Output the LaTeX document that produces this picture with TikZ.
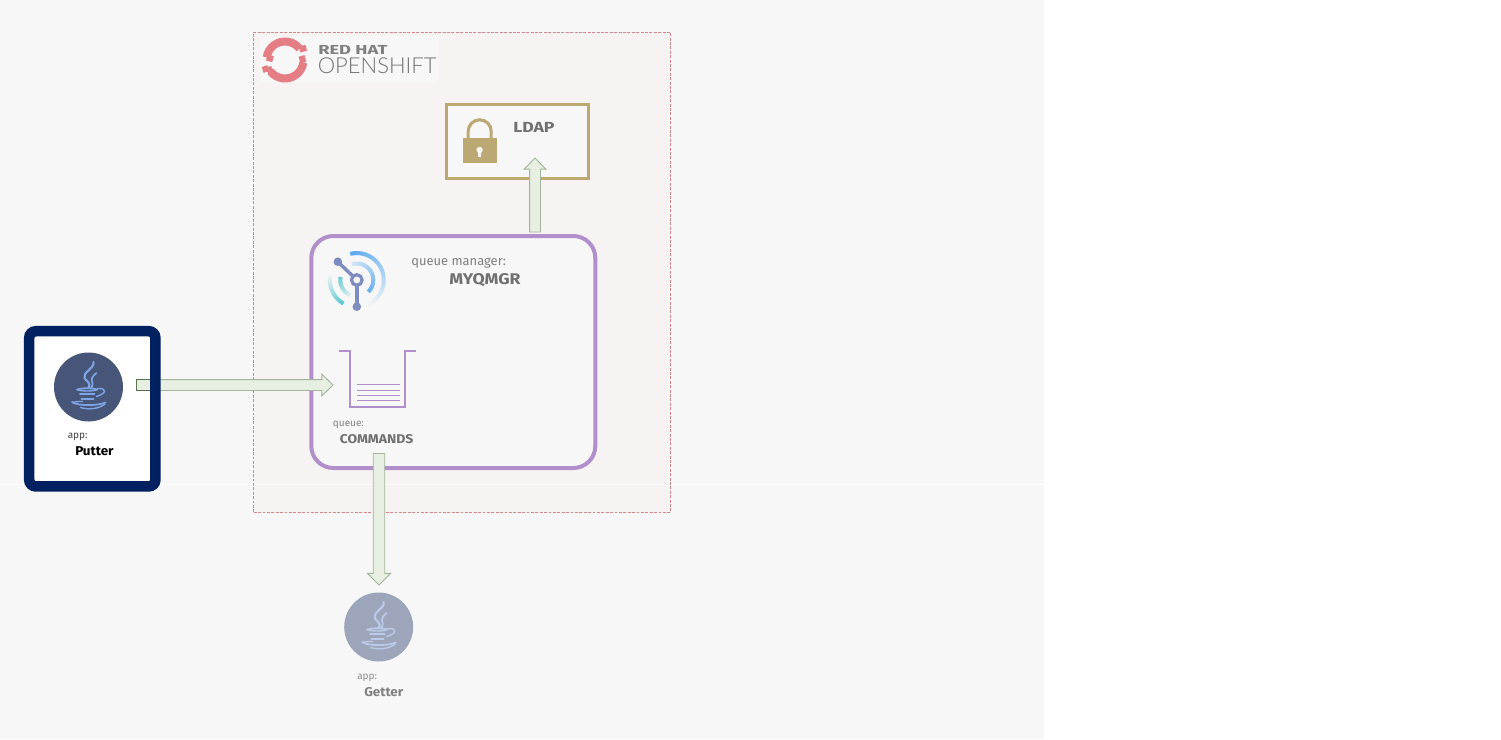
\documentclass[tikz,border=0pt]{standalone}
\usepackage{fontspec}
\setmainfont{Fira Sans}
\newfontfamily\thinfont{Lato Light}
\usetikzlibrary{calc}
\definecolor{bgc}{HTML}{F7F7F7}
\definecolor{boxtint}{HTML}{F7F3F3}
\definecolor{boxline}{HTML}{FBF9F9}
\definecolor{dashred}{HTML}{D2868C}
\definecolor{qmpurple}{HTML}{B08FCB}
\definecolor{gold}{HTML}{BBA873}
\definecolor{navy}{HTML}{00205F}
\definecolor{arrowfill}{HTML}{E6EFE2}
\definecolor{arrowline}{HTML}{A3B59B}
\definecolor{arrowdark}{HTML}{55744A}
\definecolor{txtgray}{HTML}{707070}
\definecolor{lightgray}{HTML}{808080}
\definecolor{rhred}{HTML}{E47E84}
\definecolor{iconblue}{HTML}{7F8CBF}
\definecolor{arcblue}{HTML}{5AA9F0}
\definecolor{arcteal}{HTML}{5FC8D0}
\definecolor{javadark}{HTML}{475678}
\definecolor{javadarkline}{HTML}{7FA4E6}
\definecolor{javalight}{HTML}{9DA5BA}
\definecolor{javalightline}{HTML}{BACAE8}
\tikzset{
  fat/.style={draw=arrowline,fill=arrowfill,line width=.7pt,line join=miter},
  lab/.style={inner sep=0pt,anchor=base west,text=txtgray},
  smalllab/.style={lab,font=\fontsize{7.5}{9}\selectfont},
  areabox/.style={inner sep=0pt,outer sep=0pt},
}
% #1 tail, #2 tip, #3 shaft half width, #4 head half width, #5 head length
\newcommand{\fatarrow}[5]{
  \coordinate (hb) at ($(#2)!#5!(#1)$);
  \path[fat] ($(#1)!#3!90:(#2)$) -- ($(hb)!#3!90:(#2)$) -- ($(hb)!#4!90:(#2)$) -- (#2)
     -- ($(hb)!#4!-90:(#2)$) -- ($(hb)!#3!-90:(#2)$) -- ($(#1)!#3!-90:(#2)$) -- cycle;
}
% java icon at a node centre
\newcommand{\javaicon}[2]{
  \begin{scope}[shift={(#1.center)},yscale=-1,line cap=round,draw=#2,line width=1.05pt]
    \draw[line width=1.6pt] (5,25) .. controls (6,18) and (-6,15) .. (-4,9) .. controls (-3,6) and (3,5) .. (0,-1);
    \draw[line width=1.3pt] (8,14) .. controls (4,11) and (2,8) .. (4,4) .. controls (5,2) and (3,0) .. (2.5,-1);
    \draw (-12,-2.5) .. controls (-8,-4.5) and (5,-4.5) .. (9,-2.5);
    \draw[line width=1.4pt] (-11,-2.5) .. controls (-6,-.8) and (4,-.8) .. (8.5,-2.5);
    \draw (9,-1.5) .. controls (19,-1) and (18,-6.5) .. (8,-9.5);
    \draw[line width=1.5pt] (-8.5,-7) -- (6,-7);
    \draw[line width=1.5pt] (-7,-12) -- (5,-12);
    \draw[line width=1.3pt] (-16.5,-15) .. controls (-12,-19) and (10,-19) .. (17,-15.5);
    \draw (-16,-15.5) .. controls (-10,-14) and (-8,-14.5) .. (-6,-14.5);
    \draw (-8,-20.5) .. controls (0,-23) and (10,-22) .. (16.5,-17);
  \end{scope}
}
% fading arc: radius, from, to, colour, from%, to%
\newcommand{\fadearc}[6]{
  \foreach \i in {0,...,19}{
    \pgfmathsetmacro{\arcA}{#2+(#3-#2)*\i/20}
    \pgfmathsetmacro{\arcB}{#2+(#3-#2)*(\i+1.15)/20}
    \pgfmathsetmacro{\arcP}{#5+(#6-#5)*\i/19}
    \draw[draw=#4!\arcP!bgc,line width=3pt] (\arcA:#1) arc[start angle=\arcA,end angle=\arcB,radius=#1];
  }
}
\begin{document}
\begin{tikzpicture}[x=.75pt,y=-.75pt]
\useasboundingbox (0,0) rectangle (1501,739);
\fill[white] (0,0) rectangle (1501,739);
\fill[bgc] (0,0) rectangle (1044,739);
\draw[white,line width=.9pt] (0,484.5) -- (1044,484.5);

% OpenShift area
\node[areabox,draw=dashred,fill=boxtint,line width=.75pt,dash pattern=on 2.2pt off 1.1pt,minimum width=416.8*.75pt,minimum height=480.2*.75pt] (openshift) at (462.1,272.4) {};
\draw[boxline,line width=.9pt] (254.5,484.5) -- (670,484.5);
\fill[bgc] (260,36) rectangle (438,82);

% Red Hat logo
\begin{scope}[shift={(285,60)},yscale=-1,draw=rhred,line width=6pt,line cap=butt]
  \draw (172:18.5) arc[start angle=172,end angle=38,radius=18.5];
  \draw[line width=4.6pt] (36:18) -- (30:24.5);
  \draw (-8:18.5) arc[start angle=-8,end angle=-142,radius=18.5];
  \draw[line width=4.6pt] (206:18.5) -- (204:24.5);
  \draw[line width=4.6pt] (204:18.5) -- (222:18.5);
  \draw[line width=4.6pt] (-8:18.5) -- (14:17);
  \draw[line width=4.6pt] (172:18.5) -- (176:12);
\end{scope}
\node[lab,text=lightgray,font=\fontsize{9.8}{11}\selectfont\bfseries\addfontfeature{FakeStretch=1.4}] (rh) at (318,54.7) {RED HAT};
\node[lab,text=black!55,font=\fontsize{16.5}{18}\thinfont] (os) at (317.5,73) {OPENSHIFT};

% LDAP
\node[areabox,draw=gold,fill=bgc,line width=2.25pt,minimum width=142*.75pt,minimum height=74*.75pt] (ldap) at (517.5,141.5) {};
\draw[gold,line width=2.3pt] (468.2,139) -- (468.2,131.3) arc[start angle=180,end angle=360,radius=11.5] -- (491.2,139);
\fill[gold] (462.5,138.3) rectangle (497,162.5);
\fill[bgc] (479.6,150) circle[radius=3.2];
\draw[bgc,line width=1.9pt] (479.6,150) -- (479.6,156.5);
\node[lab,font=\fontsize{11}{13}\selectfont\bfseries\addfontfeature{FakeStretch=1.2}] (ldaplab) at (513,132.7) {LDAP};

% Queue manager
\node[areabox,draw=qmpurple,fill=bgc,line width=3pt,rounded corners=16.5pt,minimum width=284*.75pt,minimum height=232*.75pt] (qm) at (453.3,352) {};
\begin{scope}[shift={(356.8,280)},yscale=-1,line cap=butt]
  \fadearc{27}{104}{-62}{arcblue}{100}{5}
  \fadearc{27}{172}{240}{arcteal}{10}{100}
  \fadearc{16.5}{107}{-45}{arcblue}{25}{90}
  \fadearc{16.5}{170}{246}{arcteal}{100}{20}
  \draw[iconblue,line width=2.6pt] (0,0) -- (-19,18.3);
  \draw[iconblue,line width=2.6pt] (0,0) -- (0,-26.7);
  \fill[iconblue] (-19,18.3) circle[radius=4.3];
  \fill[iconblue] (0,-26.7) circle[radius=4.3];
  \draw[iconblue,fill=bgc,line width=2.4pt] (0,0) circle[radius=5.3];
\end{scope}
\node[lab,text=lightgray,font=\fontsize{9.7}{12}\selectfont] (qmtitle) at (411,265.7) {queue manager:};
\node[lab,font=\fontsize{11.6}{13}\selectfont\bfseries\addfontfeature{FakeStretch=1.14}] (qmname) at (449,284.3) {MYQMGR};

% Queue
\draw[qmpurple,line width=.95pt] (339,351) -- (350,351) -- (350,407) -- (405,407) -- (405,351) -- (415.7,351);
\foreach \ly in {384,390,395.3,400.7}
  \draw[qmpurple,line width=.6pt] (357.3,\ly) -- (399.5,\ly);
\node[smalllab,text=lightgray] (qlab) at (332.7,426.7) {queue:};
\node[lab,font=\fontsize{9.5}{12}\selectfont\bfseries\addfontfeature{FakeStretch=1.1}] (qname) at (339.5,443.3) {COMMANDS};

% Putter
\node[areabox,fill=white,rounded corners=5pt,minimum width=126.2*.75pt,minimum height=155.2*.75pt] (putter) at (92.3,408.8) {};
\coordinate (putterout) at (136.5,385);
\coordinate (queuein) at (333,385);
\fatarrow{putterout}{queuein}{4.1pt}{8.1pt}{8.3pt}
\draw[arrowdark,fill=arrowfill,line width=.7pt] (136.5,379.5) rectangle (150,390.5);
\draw[navy,line width=7.9pt,rounded corners=5pt] (putter.south west) rectangle (putter.north east);
\node[areabox,circle,fill=javadark,minimum size=69*.75pt] (putterapp) at (88.5,387) {};
\javaicon{putterapp}{javadarkline}
\node[smalllab,text=black!75] (papp) at (67.5,438.3) {app:};
\node[lab,text=black,font=\fontsize{9.6}{12}\selectfont\bfseries\addfontfeature{FakeStretch=1.05}] (pname) at (75,455) {Putter};

% Getter
\node[areabox,circle,fill=javalight,minimum size=69*.75pt] (getterapp) at (378.7,627) {};
\javaicon{getterapp}{javalightline}
\node[smalllab,text=black!45] (gapp) at (357,679.3) {app:};
\node[lab,text=lightgray,font=\fontsize{9.6}{12}\selectfont\bfseries\addfontfeature{FakeStretch=1.05}] (gname) at (364,696) {Getter};

% connectors
\coordinate (qmtop) at (535,232);
\coordinate (ldapin) at (535,158);
\fatarrow{qmtop}{ldapin}{4.1pt}{8.1pt}{8.3pt}
\coordinate (qmbottom) at (379,453.5);
\coordinate (getterin) at (379,585);
\fatarrow{qmbottom}{getterin}{4.3pt}{8.6pt}{8.7pt}
\end{tikzpicture}
\end{document}
